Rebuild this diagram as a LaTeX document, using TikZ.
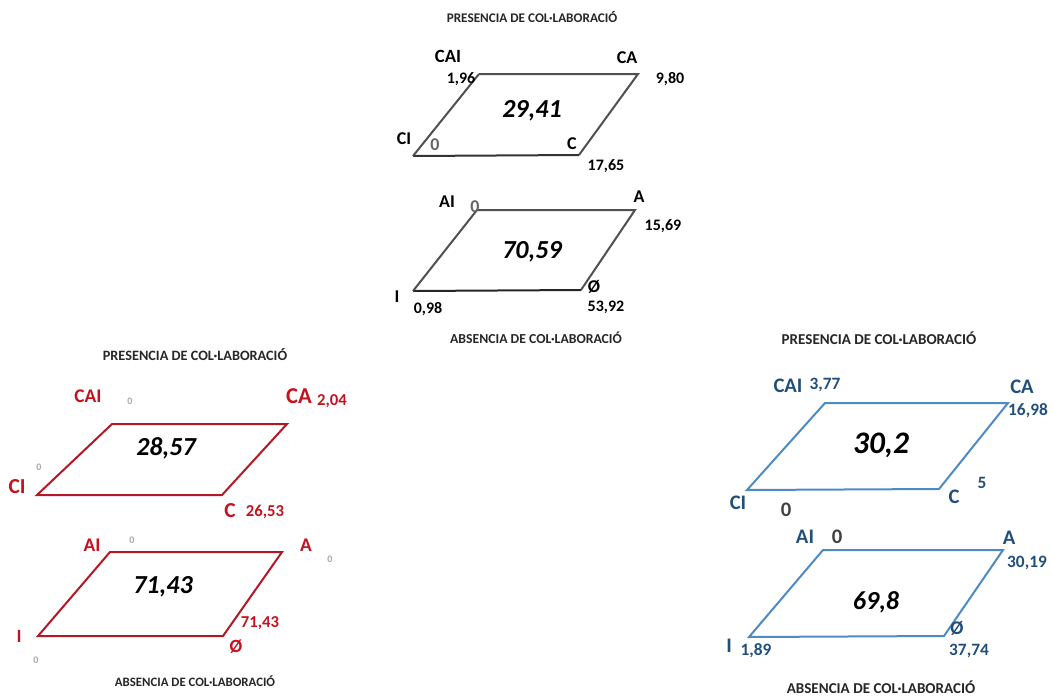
\documentclass[tikz,border=0pt]{standalone}
\usepackage{fontspec}
\setmainfont{Carlito}
\definecolor{redtxt}{RGB}{196,18,30}
\definecolor{redln}{RGB}{180,24,36}
\definecolor{bluetxt}{RGB}{34,78,124}
\definecolor{blueln}{RGB}{78,138,196}
\definecolor{grayln}{RGB}{80,80,80}
\newcommand{\fs}[1]{\fontsize{#1}{#1}\selectfont}
\tikzset{
  title/.style={font=\fs{#1}\bfseries, text=black!85, inner sep=0pt},
  lbl/.style={font=\fs{13.5}\bfseries, inner sep=0pt},
  num/.style={font=\fs{12}\bfseries, inner sep=0pt},
  rlbl/.style={font=\fs{#1}\bfseries, text=redtxt, inner sep=0pt},
  blbl/.style={font=\fs{15.5}\bfseries, text=bluetxt, inner sep=0pt},
  bnum/.style={font=\fs{13}\bfseries, text=bluetxt, inner sep=0pt},
  tiny/.style={font=\fs{7.5}\bfseries, text=black!35, inner sep=0pt},
  big/.style={font=\fs{19.5}\bfseries\itshape, inner sep=0pt},
  para/.style={line width=1.5pt, line join=miter},
}
\begin{document}
\begin{tikzpicture}[x=0.75pt, y=-0.75pt]
\useasboundingbox (0,0) rectangle (1053,696);
% ---------------- top (black) ----------------
\node[title=9.9] (tt1) at (532,17) {PRESENCIA DE COL·LABORACIÓ};
\coordinate (t1a) at (479,74);
\coordinate (t1b) at (638,74);
\coordinate (t1c) at (579,155);
\coordinate (t1d) at (413,156);
\draw[para, grayln] (t1a) -- (t1b) -- (t1c);
\draw[para, black!80] (t1c) -- (t1d);
\draw[para, grayln] (t1d) -- (t1a);
\node[lbl, font=\fs{14}\bfseries] (tCAI) at (448,56) {CAI};
\node[lbl] (tCA) at (627,58) {CA};
\node[num] (tv1) at (461,79) {1,96};
\node[num] (tv2) at (670,79) {9,80};
\node[big] (tb1) at (532,111) {29,41};
\node[lbl] (tCI) at (404,139) {CI};
\node[lbl, text=black!60] (tv3) at (435,145) {0};
\node[lbl] (tC) at (572,144) {C};
\node[num] (tv4) at (606,166) {17,65};
\coordinate (t2a) at (477,210);
\coordinate (t2b) at (635,210);
\coordinate (t2c) at (581,290);
\coordinate (t2d) at (413,291);
\draw[para, grayln] (t2a) -- (t2b) -- (t2c);
\draw[para, black!85] (t2c) -- (t2d);
\draw[para, grayln] (t2d) -- (t2a);
\node[lbl] (tAI) at (447,202) {AI};
\node[lbl, text=black!60] (tv5) at (475,207) {0};
\node[lbl] (tA) at (639,197) {A};
\node[num] (tv6) at (663,226) {15,69};
\node[big] (tb2) at (532,252) {70,59};
\node[lbl] (tI) at (397,297) {I};
\node[num] (tv7) at (428,309) {0,98};
\node[lbl] (tO) at (594,287) {Ø};
\node[num] (tv8) at (606,307) {53,92};
\node[title=10.3] (tt2) at (536,338) {ABSENCIA DE COL·LABORACIÓ};
% ---------------- left (red) ----------------
\node[title=10.7] (lt1) at (195,355) {PRESENCIA DE COL·LABORACIÓ};
\coordinate (l1a) at (112,424);
\coordinate (l1b) at (287,424);
\coordinate (l1c) at (222,495);
\coordinate (l1d) at (37,495);
\draw[para, redln] (l1a) -- (l1b) -- (l1c) -- (l1d) -- cycle;
\node[rlbl=14.5] (lCAI) at (88,396) {CAI};
\node[tiny] (lv1) at (130,401) {0};
\node[rlbl=17] (lCA) at (299,396) {CA};
\node[rlbl=12.5] (lv2) at (332,401) {2,04};
\node[big] (lb1) at (166,448) {28,57};
\node[tiny] (lv3) at (39,467) {0};
\node[rlbl=16] (lCI) at (17,487) {CI};
\node[rlbl=16] (lC) at (230,511) {C};
\node[rlbl=12.5] (lv4) at (265,512) {26,53};
\coordinate (l2a) at (110,552);
\coordinate (l2b) at (282,552);
\coordinate (l2c) at (223,636);
\coordinate (l2d) at (38,636);
\draw[para, redln] (l2a) -- (l2b) -- (l2c) -- (l2d) -- cycle;
\node[rlbl=14.5] (lAI) at (92,545) {AI};
\node[tiny] (lv5) at (132,540) {0};
\node[rlbl=14.5] (lA) at (306,545) {A};
\node[tiny] (lv6) at (330,559) {0};
\node[big] (lb2) at (163,587) {71,43};
\node[rlbl=12.5] (lv7) at (260,623) {71,43};
\node[rlbl=14] (lO) at (236,647) {Ø};
\node[rlbl=14] (lI) at (19,636) {I};
\node[tiny] (lv8) at (36,660) {0};
\node[title=9.6] (lt2) at (195,681) {ABSENCIA DE COL·LABORACIÓ};
% ---------------- right (blue) ----------------
\node[title=11.3] (rt1) at (879,338) {PRESENCIA DE COL·LABORACIÓ};
\coordinate (r1a) at (825,403);
\coordinate (r1b) at (1008,403);
\coordinate (r1c) at (939,489);
\coordinate (r1d) at (747,490);
\draw[para, blueln] (r1a) -- (r1b) -- (r1c) -- (r1d) -- cycle;
\node[blbl] (rCAI) at (788,386) {CAI};
\node[bnum] (rv1) at (825,385) {3,77};
\node[blbl] (rCA) at (1022,387) {CA};
\node[bnum] (rv2) at (1028,411) {16,98};
\node[big, font=\fs{23.5}\bfseries\itshape] (rb1) at (881,445) {30,2};
\node[bnum] (rv3) at (982,483) {5};
\node[blbl] (rC) at (954,497) {C};
\node[blbl] (rCI) at (738,503) {CI};
\node[blbl, text=black!75] (rv4) at (786,510) {0};
\coordinate (r2a) at (823,550);
\coordinate (r2b) at (1003,550);
\coordinate (r2c) at (944,636);
\coordinate (r2d) at (749,637);
\draw[para, blueln] (r2a) -- (r2b) -- (r2c) -- (r2d) -- cycle;
\node[blbl] (rAI) at (805,537) {AI};
\node[blbl, text=black!75] (rv5) at (837,537) {0};
\node[blbl] (rA) at (1009,538) {A};
\node[bnum] (rv6) at (1027,563) {30,19};
\node[big] (rb2) at (876,602) {69,8};
\node[blbl, font=\fs{14.5}\bfseries] (rO) at (957,628) {Ø};
\node[bnum] (rv7) at (969,651) {37,74};
\node[blbl] (rI) at (729,646) {I};
\node[bnum] (rv8) at (756,651) {1,89};
\node[title=11.3] (rt2) at (881,687) {ABSENCIA DE COL·LABORACIÓ};
\end{tikzpicture}
\end{document}
